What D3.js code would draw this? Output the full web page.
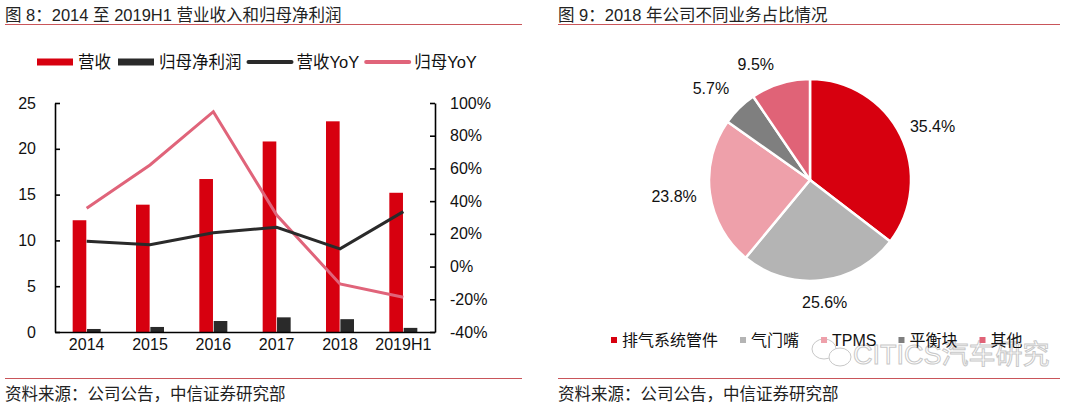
<!DOCTYPE html>
<html>
<head>
<meta charset="utf-8">
<script src="https://cdn.jsdelivr.net/npm/d3@7"></script>
<style>
  body { margin: 0; background: #fff; }
  svg { display: block; font-family: "Liberation Sans", Arial, "Noto Sans CJK SC", sans-serif; }
</style>
</head>
<body>
<svg id="chart" width="1080" height="407"></svg>
<script>
// left chart data
var years = ["2014", "2015", "2016", "2017", "2018", "2019H1"];
var revenue = [12.2, 13.9, 16.7, 20.8, 23.0, 15.2];        // 营收 (亿元)
var netProfit = [0.33, 0.55, 1.2, 1.6, 1.4, 0.45];         // 归母净利润
var revYoY = [15.5, 13.4, 20.7, 24.0, 10.8, 33.6];         // 营收YoY (%)
var npYoY = [35.6, 62.1, 94.7, 31.5, -10.6, -18.8];        // 归母YoY (%)
var leftTicks = [0, 5, 10, 15, 20, 25];
var rightTicks = [-40, -20, 0, 20, 40, 60, 80, 100];

// right chart data
var segments = ["排气系统管件", "气门嘴", "TPMS", "平衡块", "其他"];
var shares = [35.4, 25.6, 23.8, 5.7, 9.5];

var red = "#d7000f", dark = "#2a2a2a", pink = "#e0647a";
var pieColors = ["#d7000f", "#b4b4b4", "#eea0aa", "#7f7f7f", "#e06377"];
var lineRed = "#c9555a";
// small nudges for the pie labels (excel "best fit" placement)
var labelNudge = [[6, 4], [0, -7], [-7, -1], [-8, 1], [-16, 9]];

var svg = d3.select("#chart");

// titles, rules and footers for both panels
function header(x0, x1, title) {
    svg.append("text").attr("x", x0).attr("y", 21).text(title)
        .style("font-size", "16.5px").style("fill", "#222");
    svg.append("line").attr("x1", x0).attr("x2", x1).attr("y1", 24.5).attr("y2", 24.5)
        .style("stroke", lineRed).style("stroke-width", 1);
    svg.append("line").attr("x1", x0).attr("x2", x1).attr("y1", 378.5).attr("y2", 378.5)
        .style("stroke", lineRed).style("stroke-width", 1);
    svg.append("text").attr("x", x0).attr("y", 400).text("资料来源：公司公告，中信证券研究部")
        .style("font-size", "16.5px").style("fill", "#222");
}
header(5, 522, "图 8：2014 至 2019H1 营业收入和归母净利润");
header(558, 1060, "图 9：2018 年公司不同业务占比情况");

// ---------- left: bars + lines ----------
var plotL = 55, plotR = 435, plotT = 103, plotB = 332;

var x = d3.scaleBand().domain(years).range([plotL, plotR]);
var xs = d3.scaleBand().domain(["rev", "np"]).range([-14, 14]).paddingInner(0.05);
var y = d3.scaleLinear().domain([0, 25]).range([plotB, plotT]);
var y2 = d3.scaleLinear().domain([-40, 100]).range([plotB, plotT]);

function cx(d) { return x(d) + x.bandwidth() / 2; }

svg.selectAll("rect.rev").data(years).enter().append("rect")
    .attr("class", "rev")
    .attr("x", function (d) { return cx(d) + xs("rev"); })
    .attr("y", function (d, i) { return y(revenue[i]); })
    .attr("width", xs.bandwidth())
    .attr("height", function (d, i) { return plotB - y(revenue[i]); })
    .style("fill", red);

svg.selectAll("rect.np").data(years).enter().append("rect")
    .attr("class", "np")
    .attr("x", function (d) { return cx(d) + xs("np"); })
    .attr("y", function (d, i) { return y(netProfit[i]); })
    .attr("width", xs.bandwidth())
    .attr("height", function (d, i) { return plotB - y(netProfit[i]); })
    .style("fill", dark);

var line = d3.line()
    .x(function (d, i) { return cx(years[i]); })
    .y(function (d) { return y2(d); });

svg.append("path").datum(npYoY).attr("d", line)
    .style("fill", "none").style("stroke", pink).style("stroke-width", 3);
svg.append("path").datum(revYoY).attr("d", line)
    .style("fill", "none").style("stroke", dark).style("stroke-width", 3);

// axes
var gl = svg.append("g").attr("transform", "translate(" + plotL + ",0)")
    .call(d3.axisLeft(y).tickValues(leftTicks).tickSize(-5).tickSizeOuter(0).tickPadding(19));
var gr = svg.append("g").attr("transform", "translate(" + plotR + ",0)")
    .call(d3.axisRight(y2).tickValues(rightTicks).tickSize(-5).tickSizeOuter(0).tickPadding(15)
        .tickFormat(function (d) { return d + "%"; }));
var gx = svg.append("g").attr("transform", "translate(0," + plotB + ")")
    .call(d3.axisBottom(x).tickSize(0).tickPadding(7));

[gl, gr, gx].forEach(function (g) {
    g.select(".domain").style("stroke", "#000").style("stroke-width", 1.6);
    g.selectAll(".tick line").style("stroke", "#000").style("stroke-width", 1.6);
    g.selectAll("text").style("font-size", "16px").style("fill", "#111")
        .style("font-family", "'Liberation Sans', Arial, sans-serif");
});

// legend
var legendItems = [
    { name: "营收", color: red, type: "rect" },
    { name: "归母净利润", color: dark, type: "rect" },
    { name: "营收YoY", color: dark, type: "line" },
    { name: "归母YoY", color: pink, type: "line" }
];
var lx = 37, ly = 62;
legendItems.forEach(function (it) {
    if (it.type == "rect") {
        svg.append("rect").attr("x", lx).attr("y", ly - 3.5).attr("width", 36).attr("height", 7)
            .style("fill", it.color);
        lx += 36;
    } else {
        svg.append("line").attr("x1", lx).attr("x2", lx + 43).attr("y1", ly).attr("y2", ly)
            .style("stroke", it.color).style("stroke-width", 4).style("stroke-linecap", "round");
        lx += 43;
    }
    var t = svg.append("text").attr("x", lx + 5).attr("y", ly + 6).text(it.name)
        .style("font-size", "16.5px").style("fill", "#111");
    lx += 5 + t.node().getComputedTextLength() + 7;
});

// ---------- right: pie ----------
var pcx = 810, pcy = 180, r = 101;
var pie = d3.pie().sort(null).value(function (d) { return d; });
var arc = d3.arc().innerRadius(0).outerRadius(r);
var labelArc = d3.arc().innerRadius(130).outerRadius(130);
var gp = svg.append("g").attr("transform", "translate(" + pcx + "," + pcy + ")");
var arcs = pie(shares);

gp.selectAll("path").data(arcs).enter().append("path")
    .attr("d", arc)
    .style("fill", function (d, i) { return pieColors[i]; })
    .style("stroke", "#fff").style("stroke-width", 2.5).style("stroke-linejoin", "round");

gp.selectAll("text").data(arcs).enter().append("text")
    .attr("transform", function (d, i) {
        var c = labelArc.centroid(d);
        return "translate(" + (c[0] + labelNudge[i][0]) + "," + (c[1] + labelNudge[i][1]) + ")";
    })
    .attr("text-anchor", "middle").attr("dy", "0.35em")
    .text(function (d) { return d.data.toFixed(1) + "%"; })
    .style("font-size", "16px").style("fill", "#111");

// watermark
var wm = svg.append("g").style("fill", "none").style("stroke", "#c8c8c8").style("stroke-width", 1);
wm.append("ellipse").attr("cx", 824).attr("cy", 349).attr("rx", 12).attr("ry", 10);
wm.append("ellipse").attr("cx", 840).attr("cy", 357).attr("rx", 11).attr("ry", 9).style("fill", "#fff");
wm.append("text").attr("x", 853).attr("y", 364).text("CITICS汽车研究")
    .style("font-size", "27px").style("font-family", "'Liberation Sans', 'Noto Sans CJK SC', sans-serif");

// pie legend
var px = 611, py = 340;
segments.forEach(function (s, i) {
    svg.append("rect").attr("x", px).attr("y", py - 3).attr("width", 6).attr("height", 6)
        .style("fill", pieColors[i]);
    var t = svg.append("text").attr("x", px + 11).attr("y", py + 6).text(s)
        .style("font-size", "16px").style("fill", "#111");
    px += 11 + t.node().getComputedTextLength() + 22;
});
</script>
</body>
</html>
